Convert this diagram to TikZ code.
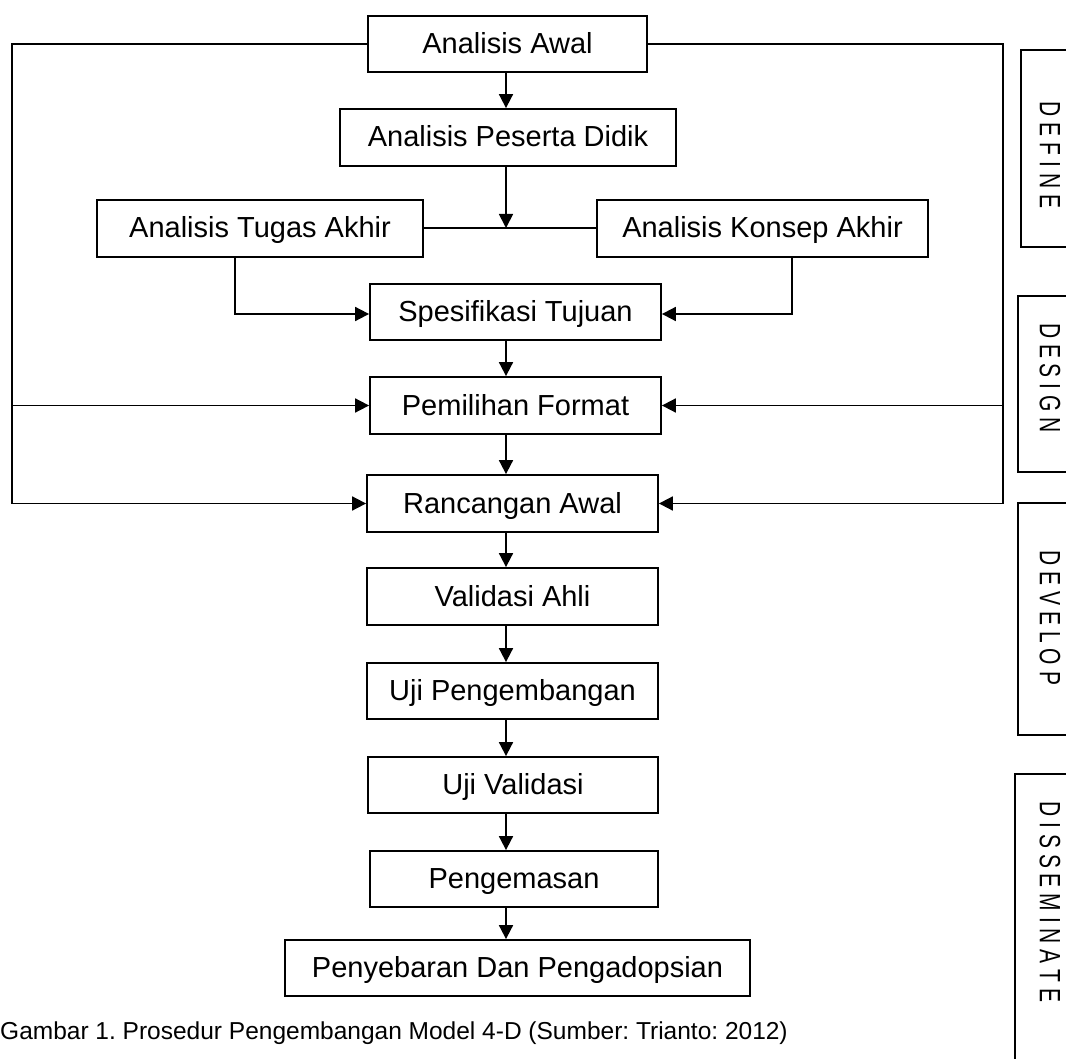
\documentclass[tikz,border=0pt]{standalone}
\usepackage{fontspec}
\setmainfont{Liberation Sans}
\usetikzlibrary{arrows.meta}
\frenchspacing
\tikzset{
  box/.style={draw, line width=1.8pt, inner sep=0pt, text height=21pt, text depth=2pt, font=\fontsize{29}{34}\selectfont},
  arr/.style={line width=1.8pt, -{Triangle[length=14pt,width=14pt]}},
  ln/.style={line width=1.8pt},
  phase/.style={draw, line width=1.8pt, inner sep=0pt},
  phasetxt/.style={rotate=-90, inner sep=0pt, font=\fontsize{21}{25}\selectfont}
}
\newcommand{\bx}[7]{% name, x1, y1, x2, y2, text
  \node[box, minimum width={#4-#2}, minimum height={#5-#3}] (#1) at ({(#2+#4)/2},{(#3+#5)/2}) {#6};}
\begin{document}
\begin{tikzpicture}[x=1pt,y=-1pt]
\useasboundingbox (0,0) rectangle (1066,1059);
\coordinate (cx) at (506,0);
\coordinate (lx) at (12,0);
\coordinate (rx) at (1003,0);
\bx{awal}{368}{16}{647}{72}{Analisis Awal}{}
\bx{peserta}{340}{109}{676}{166}{Analisis Peserta Didik}{}
\bx{tugas}{97}{200}{423}{257}{Analisis Tugas Akhir}{}
\bx{konsep}{597}{200}{928}{257}{Analisis Konsep Akhir}{}
\bx{spes}{370}{284}{661}{340}{Spesifikasi Tujuan}{}
\bx{format}{370}{377}{661}{434}{Pemilihan Format}{}
\bx{ranc}{367}{475}{658}{532}{Rancangan Awal}{}
\bx{vahli}{367}{568}{658}{625}{Validasi Ahli}{}
\bx{ujipeng}{367}{663}{658}{719}{Uji Pengembangan}{}
\bx{ujival}{368}{757}{658}{813}{Uji Validasi}{}
\bx{kemas}{370}{851}{658}{907}{Pengemasan}{}
\bx{sebar}{285}{940}{750}{996}{Penyebaran Dan Pengadopsian}{}
% vertical chain
\draw[arr] (awal.south -| cx) -- (peserta.north -| cx);
\coordinate (jn) at (506,228);
\draw[ln] (tugas.east |- jn) -- (konsep.west |- jn);
\draw[arr] (peserta.south -| cx) -- (jn);
\coordinate (tx) at (235,314);
\coordinate (kx) at (792,314);
\draw[arr] (tugas.south -| tx) -- (tx) -- (spes.west |- tx);
\draw[arr] (konsep.south -| kx) -- (kx) -- (spes.east |- kx);
\draw[arr] (spes.south -| cx) -- (format.north -| cx);
\draw[arr] (format.south -| cx) -- (ranc.north -| cx);
\draw[arr] (ranc.south -| cx) -- (vahli.north -| cx);
\draw[arr] (vahli.south -| cx) -- (ujipeng.north -| cx);
\draw[arr] (ujipeng.south -| cx) -- (ujival.north -| cx);
\draw[arr] (ujival.south -| cx) -- (kemas.north -| cx);
\draw[arr] (kemas.south -| cx) -- (sebar.north -| cx);
% side loops
\draw[arr] (awal.west) -- (lx |- awal.west) -- (lx |- ranc.west) -- (ranc.west);
\draw[arr] (lx |- format.west) -- (format.west);
\draw[arr] (awal.east) -- (rx |- awal.east) -- (rx |- ranc.east) -- (ranc.east);
\draw[arr] (rx |- format.east) -- (format.east);
% phase boxes
\node[phase, minimum width=70pt, minimum height=197pt] (pdef) at (1056,148.5) {};
\node[phasetxt] (tdef) at (1050,155) {\scalebox{1}[1.4]{D E F I N E}};
\node[phase, minimum width=70pt, minimum height=176pt] (pdes) at (1053,384) {};
\node[phasetxt] (tdes) at (1050,378) {\scalebox{1}[1.4]{D E S I G N}};
\node[phase, minimum width=70pt, minimum height=232pt] (pdev) at (1053,619) {};
\node[phasetxt] (tdev) at (1050,618) {\scalebox{1}[1.4]{D E V E L O P}};
\node[phase, minimum width=73pt, minimum height=320pt] (pdis) at (1051.5,934) {};
\node[phasetxt] (tdis) at (1050,902) {\scalebox{1}[1.4]{D I S S E M I N A T E}};
% caption
\node[anchor=base west, inner sep=0pt, font=\fontsize{24.5}{29}\selectfont] (cap) at (0,1039) {Gambar 1. Prosedur Pengembangan Model 4-D (Sumber: Trianto: 2012)};
\end{tikzpicture}
\end{document}
